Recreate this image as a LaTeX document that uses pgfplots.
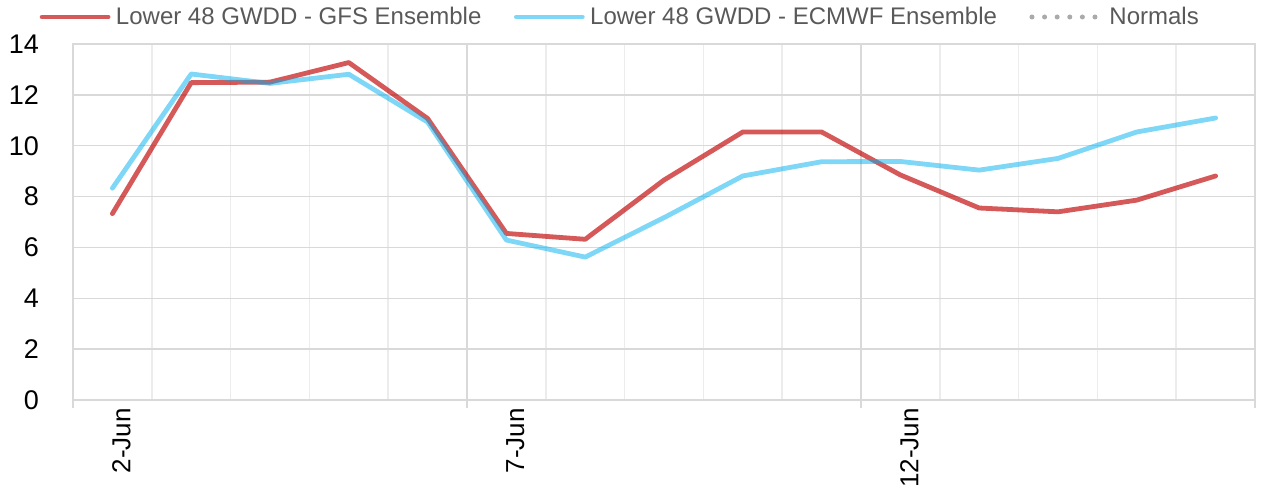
\documentclass[border=0pt]{standalone}
\usepackage{pgfplots}
\pgfplotsset{compat=1.18}
\usepackage{fontspec}
\setmainfont{Liberation Sans}
\definecolor{gfsred}{RGB}{192,0,0}
\definecolor{ecblue}{RGB}{0,176,240}
\definecolor{gridmaj}{RGB}{217,217,217}
\definecolor{gridmin}{RGB}{236,236,236}
\definecolor{legtext}{RGB}{89,89,89}
\definecolor{normgray}{RGB}{170,170,170}
\begin{document}
\begin{tikzpicture}
\useasboundingbox (0,0) rectangle (1261bp,498bp);
\begin{axis}[
  at={(73bp,98bp)}, anchor=south west,
  scale only axis, width=1182bp, height=356bp,
  xmin=-0.5, xmax=14.5, ymin=0, ymax=14,
  ytick={0,2,...,14},
  xtick={-0.5,4.5,9.5,14.5}, xticklabels={},
  minor x tick num=4,
  extra x ticks={0,5,10},
  extra x tick labels={2-Jun,7-Jun,12-Jun},
  extra x tick style={grid=none, tick style={draw=none},
    xticklabel style={rotate=90, anchor=east, inner sep=0pt, yshift=-9bp, font=\fontsize{26bp}{30bp}\selectfont}},
  grid=both,
  major grid style={draw=gridmaj, line width=1.5bp},
  minor grid style={draw=gridmin, line width=1.5bp},
  axis line style={draw=gridmaj, line width=1.5bp},
  tick style={draw=gridmaj, line width=1.5bp},
  tick align=outside,
  major tick length=8bp, minor tick length=0pt,
  y tick style={draw=none},
  xtick pos=bottom, ytick pos=left,
  yticklabel style={anchor=east, inner sep=0pt, xshift=-26bp, font=\fontsize{27bp}{31bp}\selectfont},
  /pgf/number format/assume math mode=true,
  legend columns=3,
  legend style={at={(axis description cs:0,1)}, anchor=west, xshift=-33.5bp, yshift=27bp,
    draw=none, fill=none, inner sep=0pt, text=legtext,
    font=\fontsize{24bp}{28bp}\selectfont,
    nodes={inner sep=0pt},
    /tikz/every odd column/.style={column sep=5.5bp},
    /tikz/every even column/.style={column sep=32.5bp}},
  legend image code/.code={\draw[#1, line cap=round] (0bp,0bp) -- (66bp,0bp);},
]
\addplot[draw=gfsred, draw opacity=0.65, line width=4.8bp, line join=round, line cap=round] coordinates {
(0,7.33) (1,12.48) (2,12.5) (3,13.27) (4,11.07) (5,6.55) (6,6.32) (7,8.65) (8,10.54) (9,10.54) (10,8.85) (11,7.55) (12,7.4) (13,7.86) (14,8.81)};
\addlegendentry{Lower 48 GWDD - GFS Ensemble}
\addplot[draw=ecblue, draw opacity=0.5, line width=4.8bp, line join=round, line cap=round] coordinates {
(0,8.33) (1,12.82) (2,12.45) (3,12.81) (4,10.93) (5,6.29) (6,5.62) (7,7.17) (8,8.81) (9,9.37) (10,9.38) (11,9.04) (12,9.5) (13,10.54) (14,11.09)};
\addlegendentry{Lower 48 GWDD - ECMWF Ensemble}
\addlegendimage{draw=none, mark=none, legend image code/.code={\path[draw=none] (0bp,0bp) -- (72bp,0bp); \draw[draw=normgray, line width=5bp, line cap=round, dash pattern=on 0pt off 12.6bp] (0bp,0bp) -- (63.1bp,0bp);}}
\addlegendentry{Normals}
\end{axis}
\end{tikzpicture}
\end{document}
